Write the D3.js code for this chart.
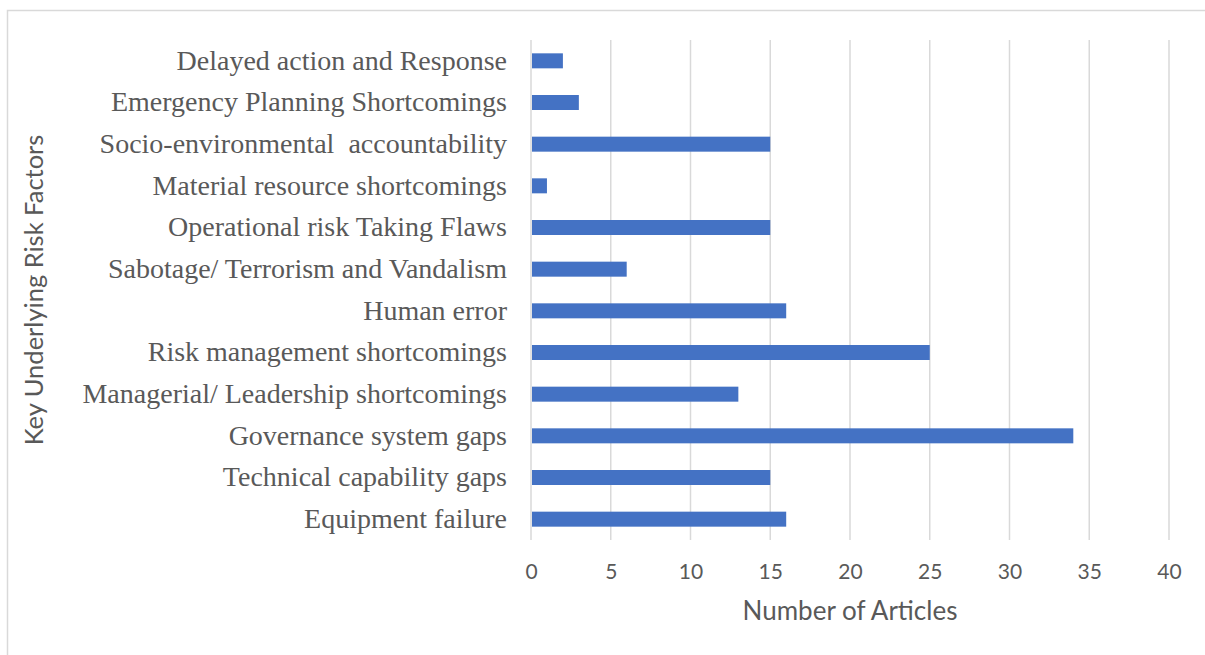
<!DOCTYPE html>
<html>
<head>
<meta charset="utf-8">
<script src="https://cdn.jsdelivr.net/npm/d3@7"></script>
<style>
  html, body { margin: 0; padding: 0; background: #fff; }
  svg { display: block; }
</style>
</head>
<body>
<svg id="chart" width="1205" height="655"></svg>
<script>
// Risk factors, listed top to bottom
const categories = [
  "Delayed action and Response",
  "Emergency Planning Shortcomings",
  "Socio-environmental  accountability",
  "Material resource shortcomings",
  "Operational risk Taking Flaws",
  "Sabotage/ Terrorism and Vandalism",
  "Human error",
  "Risk management shortcomings",
  "Managerial/ Leadership shortcomings",
  "Governance system gaps",
  "Technical capability gaps",
  "Equipment failure"
];
const articleCounts = [2, 3, 15, 1, 15, 6, 16, 25, 13, 34, 15, 16];
const xTicks = [0, 5, 10, 15, 20, 25, 30, 35, 40];

const svg = d3.select("#chart");

// outer frame
svg.append("rect")
  .attr("x", 7.5).attr("y", 10.5)
  .attr("width", 1205).attr("height", 660)
  .attr("fill", "#fff").attr("stroke", "#d9d9d9").attr("stroke-width", 1.5);

const plot = { left: 531, right: 1169, top: 40, bottom: 540 };

const x = d3.scaleLinear().domain([0, 40]).range([plot.left, plot.right]);
const y = d3.scaleBand().domain(categories).range([plot.top, plot.bottom]).paddingInner(0.64).paddingOuter(0.32);

// vertical gridlines
svg.append("g")
  .selectAll("line")
  .data(xTicks)
  .join("line")
  .attr("x1", d => x(d)).attr("x2", d => x(d))
  .attr("y1", plot.top).attr("y2", plot.bottom)
  .attr("stroke", "#d9d9d9").attr("stroke-width", 1.5);

// bars
svg.append("g")
  .selectAll("rect")
  .data(categories.map((c, i) => ({ c, v: articleCounts[i] })))
  .join("rect")
  .attr("x", x(0) + 1)
  .attr("y", d => y(d.c))
  .attr("width", d => x(d.v) - x(0) - 1)
  .attr("height", y.bandwidth())
  .attr("fill", "#4472c4");

// x axis tick labels
const xAxis = d3.axisBottom(x).tickValues(xTicks).tickSize(0).tickPadding(24);
const gx = svg.append("g").attr("transform", `translate(0,${plot.bottom})`).call(xAxis);
gx.select(".domain").remove();
gx.selectAll("text")
  .attr("fill", "#595959")
  .style("font-family", "Lato, 'Open Sans', sans-serif")
  .style("font-size", "21px");

// category labels
const yAxis = d3.axisLeft(y).tickSize(0).tickPadding(24);
const gy = svg.append("g").attr("transform", `translate(${plot.left},0)`).call(yAxis);
gy.select(".domain").remove();
gy.selectAll("text")
  .attr("fill", "#595959")
  .style("font-family", "'Liberation Serif', 'Times New Roman', serif")
  .style("font-size", "28px")
  .style("white-space", "pre");

// axis titles
svg.append("text")
  .attr("x", (plot.left + plot.right) / 2)
  .attr("y", 620)
  .attr("text-anchor", "middle")
  .attr("fill", "#595959")
  .style("font-family", "Lato, 'Open Sans', sans-serif")
  .style("font-size", "26px")
  .text("Number of Articles");

svg.append("text")
  .attr("transform", "translate(43,290) rotate(-90)")
  .attr("text-anchor", "middle")
  .attr("fill", "#595959")
  .style("font-family", "Lato, 'Open Sans', sans-serif")
  .style("font-size", "25.5px")
  .text("Key Underlying Risk Factors");
</script>
</body>
</html>
